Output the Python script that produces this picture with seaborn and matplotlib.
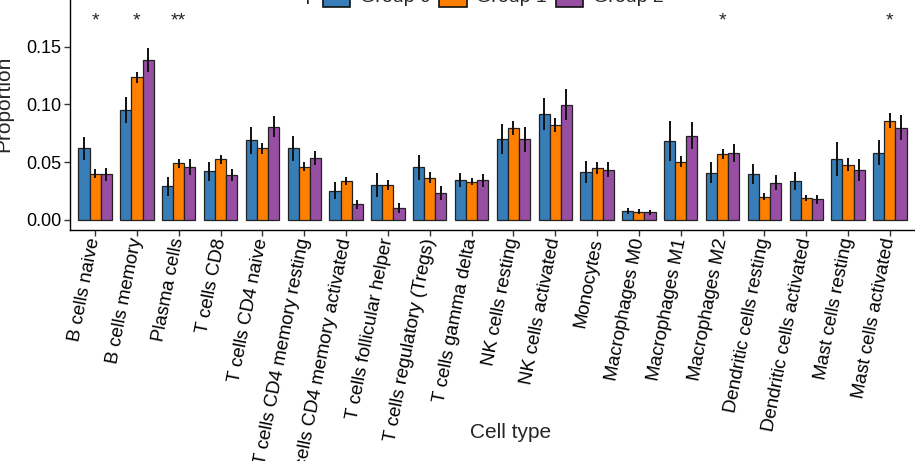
import matplotlib
matplotlib.use("Agg")
import matplotlib.pyplot as plt
from matplotlib.patches import Patch
import numpy as np
import pandas as pd
import seaborn as sns

# Cell types on the x axis
cell_types = [
    "B cells naive", "B cells memory", "Plasma cells", "T cells CD8",
    "T cells CD4 naive", "T cells CD4 memory resting",
    "T cells CD4 memory activated", "T cells follicular helper",
    "T cells regulatory (Tregs)", "T cells gamma delta", "NK cells resting",
    "NK cells activated", "Monocytes", "Macrophages M0", "Macrophages M1",
    "Macrophages M2", "Dendritic cells resting", "Dendritic cells activated",
    "Mast cells resting", "Mast cells activated",
]
groups = ["Group 0", "Group 1", "Group 2"]

# Mean proportion per group
mean_g0 = [0.062, 0.095, 0.029, 0.042, 0.069, 0.062, 0.0254, 0.0303, 0.0456, 0.0346,
           0.070, 0.0915, 0.0418, 0.0078, 0.0686, 0.041, 0.0398, 0.0335, 0.0525, 0.0583]
mean_g1 = [0.040, 0.1235, 0.049, 0.0525, 0.062, 0.0461, 0.0337, 0.0303, 0.0366, 0.0332,
           0.0793, 0.0819, 0.0447, 0.0072, 0.0505, 0.0571, 0.0202, 0.0188, 0.0479, 0.086]
mean_g2 = [0.0395, 0.1385, 0.0461, 0.039, 0.0807, 0.0534, 0.0136, 0.0101, 0.0236, 0.0343,
           0.0698, 0.0998, 0.0433, 0.0066, 0.073, 0.0577, 0.0323, 0.0179, 0.0433, 0.080]

# Standard errors
se_g0 = [0.0098, 0.0115, 0.0082, 0.0084, 0.0115, 0.011, 0.0075, 0.0104, 0.011, 0.0063,
         0.013, 0.014, 0.0095, 0.0025, 0.0172, 0.009, 0.0085, 0.0079, 0.0146, 0.011]
se_g1 = [0.0039, 0.005, 0.004, 0.0039, 0.0046, 0.004, 0.0033, 0.0046, 0.0048, 0.0032,
         0.006, 0.006, 0.0053, 0.002, 0.0048, 0.0043, 0.0029, 0.0026, 0.0053, 0.0062]
se_g2 = [0.0058, 0.0104, 0.0069, 0.0055, 0.0092, 0.006, 0.0039, 0.0043, 0.006, 0.0058,
         0.011, 0.0135, 0.0065, 0.002, 0.012, 0.0078, 0.0062, 0.0039, 0.0098, 0.0105]

# Significance marks per cell type
sig_marks = ["*", "*", "**", "", "", "", "", "", "", "", "", "", "", "", "",
             "*", "", "", "", "*"]

colors = ["#377EB8", "#FF7F00", "#984EA3"]

means = [mean_g0, mean_g1, mean_g2]
ses = [se_g0, se_g1, se_g2]
df = pd.DataFrame({
    "cell": np.tile(cell_types, 3),
    "group": np.repeat(groups, len(cell_types)),
    "prop": np.concatenate(means),
})

sns.set_style("ticks")
plt.rcParams["font.family"] = ["Liberation Sans", "DejaVu Sans"]

W, H = 915, 461
fig = plt.figure(figsize=(W / 100, H / 100), dpi=100)
ax = fig.add_axes([70 / W, (H - 230) / H, 845 / W, 230 / H])

sns.barplot(data=df, x="cell", y="prop", hue="group", palette=colors,
            order=cell_types, hue_order=groups, errorbar=None, width=0.8,
            saturation=1, edgecolor="#222222", linewidth=0.9, legend=False,
            ax=ax)

# error bars at the bar centres
for cont, m, s in zip(ax.containers, means, ses):
    xs = [b.get_x() + b.get_width() / 2 for b in cont]
    ax.errorbar(xs, m, yerr=s, fmt="none", ecolor="#111111",
                elinewidth=1.4, capsize=0, zorder=5)

for i, mark in enumerate(sig_marks):
    if mark:
        ax.text(i, 0.172, mark, ha="center", va="center", fontsize=14)

ax.set_xlim(-0.6, len(cell_types) - 0.4)
ax.set_ylim(-0.0087, 0.1904)
ax.set_yticks([0.0, 0.05, 0.10, 0.15])
ax.set_yticklabels(["0.00", "0.05", "0.10", "0.15"])
sns.despine(ax=ax)
for sp in ["left", "bottom"]:
    ax.spines[sp].set_linewidth(1.0)
    ax.spines[sp].set_color("black")
ax.tick_params(axis="both", length=4, width=1.0, color="#333333",
               labelsize=13, pad=2, labelcolor="black")
ax.tick_params(axis="x", labelsize=13.5)
plt.setp(ax.get_xticklabels(), rotation=79, ha="right", va="center",
         rotation_mode="anchor")

ax.set_xlabel("Cell type", fontsize=15)
ax.set_ylabel("Proportion", fontsize=15)
ax.xaxis.set_label_coords((511 - 70) / 845, -0.84)
ax.yaxis.set_label_coords((13 - 70) / 845, 0.55)

# legend at the top, partly outside the picture like the reference
handles = [Patch(facecolor=c, edgecolor="#111111", linewidth=1.2) for c in colors]
fig.legend(handles, groups, loc="lower left", ncol=3, frameon=False,
           bbox_to_anchor=(323 / W, 1 - 7 / H), borderpad=0, borderaxespad=0,
           fontsize=14, handlelength=1.4, handleheight=1.4, handletextpad=0.5,
           columnspacing=0.45)
fig.text(262 / W, 1 + 4 / H, "Group", fontsize=14, va="center", ha="left")

fig.savefig("out.png", dpi=100)
